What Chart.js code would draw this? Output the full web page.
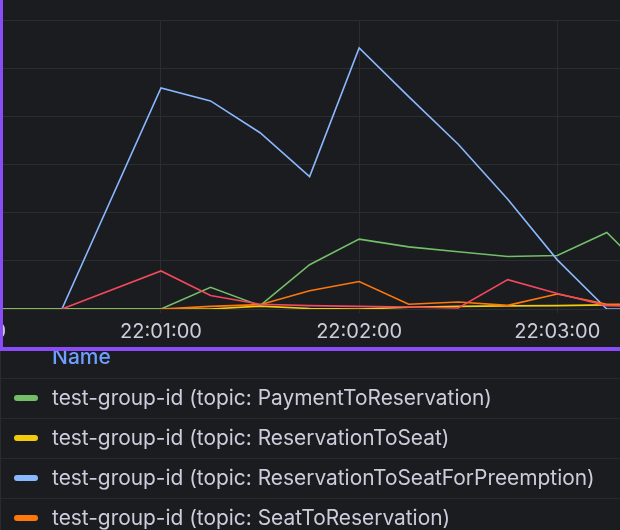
<!DOCTYPE html>
<html><head><meta charset="utf-8">
<script src="https://cdn.jsdelivr.net/npm/chart.js@4"></script>
<style>
html,body{margin:0;padding:0;background:#1b1c20;overflow:hidden;width:620px;height:530px;position:relative;font-family:Inter,"Noto Sans",sans-serif;}
#wrap{position:absolute;left:-100px;top:10px;width:820px;height:340px;}
#legend{position:absolute;left:0;top:344px;width:620px;border-left:1px solid #2a2b2f;box-sizing:border-box;}
.hdr{height:34px;line-height:25px;padding-left:51px;font-size:21px;font-weight:500;color:#6e9fff;box-sizing:border-box;padding-bottom:9px;}
.row{position:relative;height:40px;border-top:1px solid #28292d;box-sizing:border-box;line-height:37px;font-size:20.9px;color:#ccccdc;padding-left:51px;white-space:nowrap;}
.sw{position:absolute;left:13px;top:16px;width:24px;height:6px;border-radius:3px;}
.pb{position:absolute;background:#8a4cf7;z-index:5;}
</style></head><body>
<div id="wrap"><canvas id="c" width="820" height="340"></canvas></div>
<div id="legend"></div>
<div class="pb" style="left:0;top:0;width:3px;height:351px"></div>
<div class="pb" style="left:0;top:347px;width:620px;height:4px"></div>
<script>
// seconds after 22:00:00 (the 22:00:45 sample is missing)
const timeSeconds = [0, 15, 30, 60, 75, 90, 105, 120, 135, 150, 165, 180, 195, 210];
const xTickLabels = ["22:00:00", "22:01:00", "22:02:00", "22:03:00"];
const legendHeader = "Name";
const groupId = "test-group-id";
const topics = ["PaymentToReservation", "ReservationToSeat", "ReservationToSeatForPreemption", "SeatToReservation", "SeatToReservationForPreemption"];

const paymentToReservation = [0, 0, 0, 0, 4.5, 0.7, 9.2, 14.5, 12.9, 11.9, 10.9, 11.1, 15.9, 5.6];
const reservationToSeat = [0, 0, 0, 0, 0, 0.6, 0.1, 0, 0.35, 0.55, 0.65, 0.7, 0.85, 0.9];
const reservationToSeatForPreemption = [null, null, 0, 45.9, 43.2, 36.6, 27.5, 54.2, 44.1, 34.2, 22.8, 10.2, 0, 0];
const seatToReservation = [null, null, null, 0, 0.55, 0.9, 3.8, 5.7, 1.0, 1.45, 0.75, 3.1, 1.0, 1.0];
const seatToReservationForPreemption = [null, null, 0, 7.9, 2.8, 1.0, 0.7, 0.55, 0.4, 0.2, 6.1, 3.2, 0.7, 0.55];

const seriesValues = [paymentToReservation, reservationToSeat, reservationToSeatForPreemption, seatToReservation, seatToReservationForPreemption];
const seriesColors = ["#73BF69", "#F2CC0C", "#8AB8FF", "#FF780A", "#F2495C"];
const drawOrder = [3, 4, 2, 1, 0]; // higher = drawn first (underneath)

const gridColor = "#2c2d31";
const names = topics.map(t => groupId + " (topic: " + t + ")");

const datasets = seriesValues.map((vals, i) => ({
  label: names[i],
  data: timeSeconds.map((t, j) => ({x: t, y: vals[j]})),
  borderColor: seriesColors[i],
  backgroundColor: seriesColors[i],
  borderWidth: 1.6,
  pointRadius: 0,
  tension: 0,
  fill: false,
  order: drawOrder[i]
}));

new Chart(document.getElementById('c'), {
  type: 'line',
  data: {datasets},
  options: {
    responsive: false,
    animation: false,
    devicePixelRatio: 1,
    layout: {padding: {top: 10, left: 0, right: 0, bottom: 0}},
    plugins: {legend: {display: false}, tooltip: {enabled: false}},
    scales: {
      x: {
        type: 'linear',
        min: -19.03,
        max: 229.27,
        border: {display: false},
        grid: {
          color: c => (c.tick && c.tick.value % 60 === 0) ? gridColor : 'rgba(0,0,0,0)',
          tickLength: 4,
          lineWidth: 1
        },
        ticks: {
          stepSize: 60,
          includeBounds: false,
          autoSkip: false,
          maxRotation: 0,
          padding: 7,
          color: '#ccccdc',
          font: {family: 'Inter', size: 20},
          callback: v => (v % 60 === 0 && xTickLabels[v / 60] !== undefined) ? xTickLabels[v / 60] : ''
        },
        afterFit: s => { s.height = 41; }
      },
      y: {
        min: 0,
        max: 60,
        border: {display: false},
        grid: {color: gridColor, drawTicks: false, lineWidth: 1},
        ticks: {display: false, stepSize: 10},
        afterFit: s => { s.width = 0; }
      }
    }
  }
});

const legend = document.getElementById('legend');
const hdr = document.createElement('div');
hdr.className = 'hdr';
hdr.textContent = legendHeader;
legend.appendChild(hdr);
names.forEach((n, i) => {
  const r = document.createElement('div');
  r.className = 'row';
  const sw = document.createElement('span');
  sw.className = 'sw';
  sw.style.background = seriesColors[i];
  r.appendChild(sw);
  r.appendChild(document.createTextNode(n));
  legend.appendChild(r);
});
</script>
</body></html>
